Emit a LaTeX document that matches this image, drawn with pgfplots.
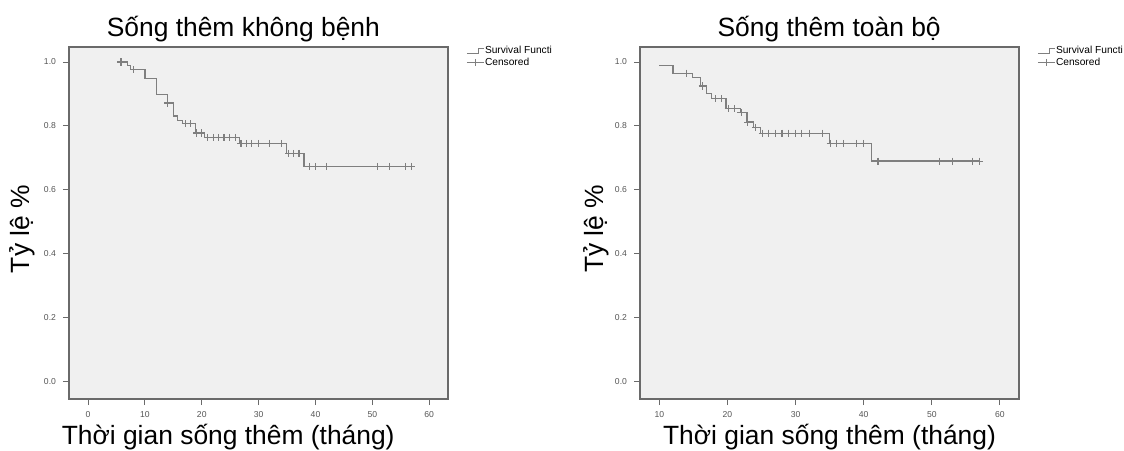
\documentclass[border=0pt]{standalone}
\usepackage{fontspec}
\setmainfont{Liberation Sans}
\usepackage{pgfplots}
\pgfplotsset{compat=1.18}

\definecolor{plotbg}{HTML}{F0F0F0}
\definecolor{curve}{HTML}{7F7F7F}
\definecolor{frame}{HTML}{6A6A6A}
\definecolor{ticktext}{HTML}{555555}

\pgfplotsset{
  km/.style={
    scale only axis, width=189.5pt, height=176pt,
    axis background/.style={fill=plotbg},
    axis line style={frame, line width=0.75pt},
    tick style={frame, line width=0.5pt},
    tick align=outside, major tick length=3pt,
    xtick pos=lower, ytick pos=left,
    ymin=-0.054, ymax=1.047,
    ytick={0,0.2,0.4,0.6,0.8,1.0},
    /pgf/number format/assume math mode=true,
    yticklabel style={/pgf/number format/.cd, fixed, fixed zerofill, precision=1},
    tick label style={font=\fontsize{4.3}{5}\selectfont, text=ticktext},
    xticklabel style={yshift=0.5pt},
    title style={font=\fontsize{13.2}{15}\selectfont, anchor=base, yshift=-0.5pt},
    xlabel style={font=\fontsize{13.2}{15}\selectfont, anchor=base, yshift=-22.5pt},
    ylabel style={font=\fontsize{13.2}{15}\selectfont, anchor=center},
    legend style={at={(1,1)}, anchor=north west, xshift=9pt, yshift=0.7pt,
      draw=none, fill=none, inner sep=0pt, row sep=0.6pt,
      font=\fontsize{5.1}{6}\selectfont,
      nodes={inner sep=0.3pt, text height=3.5pt, text depth=1pt}},
    legend cell align=left,
  },
  steplegend/.style={legend image code/.code={
    \draw[curve, line width=0.5pt] (0pt,-1pt) -- (6pt,-1pt) -- (6pt,1.3pt) -- (8.5pt,1.3pt);}},
  censlegend/.style={legend image code/.code={
    \draw[curve, line width=0.5pt] (0pt,0pt) -- (8.5pt,0pt);
    \draw[curve, line width=0.5pt] plot[mark=+, mark size=1.8pt] coordinates {(4.25pt,0pt)};}},
}

\begin{document}
\begin{tikzpicture}
\useasboundingbox (0,0) rectangle (562pt,-225pt);

% left: disease-free survival
\begin{axis}[km,
    at={(34.5pt,-199.5pt)}, anchor=south west,
    xmin=-3.35, xmax=63.3,
    xtick={0,10,20,30,40,50,60},
    title={Sống thêm không bệnh},
    title style={at={(axis description cs:0.46,1)}},
    xlabel={Thời gian sống thêm (tháng)},
    xlabel style={at={(axis description cs:0.42,0)}},
    ylabel={Tỷ lệ \%},
    ylabel style={at={(axis description cs:-0.124,0.483)}},
]
\addplot[const plot, curve, line width=0.65pt, steplegend] coordinates {
  (5.8,1.000) (6.9,0.990) (7.5,0.976) (10.0,0.949) (12.0,0.898) (14.0,0.872)
  (15.0,0.831) (15.75,0.818) (16.6,0.807) (18.9,0.778) (20.5,0.764)
  (26.6,0.745) (34.9,0.714) (38.0,0.673) (57.0,0.673)
};
\addplot[only marks, mark=+, mark size=1.8pt, curve, line width=0.55pt, censlegend] coordinates {
  (5.8,1.000) (8.0,0.976) (14.0,0.872) (17.1,0.807) (18.0,0.807)
  (19.1,0.778) (19.9,0.778)
  (21.0,0.764) (22.0,0.764) (22.9,0.764) (23.9,0.764) (24.8,0.764) (25.9,0.764)
  (26.9,0.745) (27.8,0.745) (28.7,0.745) (29.9,0.745) (31.9,0.745) (34.0,0.745)
  (35.3,0.714) (36.2,0.714) (37.1,0.714)
  (38.9,0.673) (40.0,0.673) (42.0,0.673) (50.9,0.673) (53.0,0.673) (55.9,0.673) (56.9,0.673)
};
\legend{Survival Functi, Censored}
\end{axis}

% right: overall survival
\begin{axis}[km,
    at={(320pt,-199.5pt)}, anchor=south west,
    xmin=7.16, xmax=62.8,
    xtick={10,20,30,40,50,60},
    title={Sống thêm toàn bộ},
    title style={at={(axis description cs:0.499,1)}},
    xlabel={Thời gian sống thêm (tháng)},
    xlabel style={at={(axis description cs:0.5,0)}},
    ylabel={Tỷ lệ \%},
    ylabel style={at={(axis description cs:-0.116,0.483)}},
]
\addplot[const plot, curve, line width=0.65pt, steplegend] coordinates {
  (10.0,0.990) (12.0,0.965) (14.9,0.951) (16.0,0.925) (16.9,0.901) (17.7,0.885)
  (19.8,0.855) (21.9,0.842) (22.85,0.812) (23.8,0.795) (24.8,0.777)
  (35.0,0.745) (41.1,0.690) (57.0,0.690)
};
\addplot[only marks, mark=+, mark size=1.8pt, curve, line width=0.55pt, censlegend] coordinates {
  (14.0,0.965) (16.3,0.925) (18.2,0.885) (19.1,0.885) (20.1,0.855) (21.0,0.855)
  (22.0,0.842) (23.0,0.812) (24.1,0.795)
  (25.1,0.777) (26.0,0.777) (27.0,0.777) (28.0,0.777) (29.0,0.777) (30.0,0.777)
  (30.9,0.777) (32.1,0.777) (34.0,0.777)
  (35.1,0.745) (36.0,0.745) (37.0,0.745) (39.0,0.745) (40.0,0.745)
  (42.1,0.690) (51.1,0.690) (53.1,0.690) (56.0,0.690) (57.0,0.690)
};
\legend{Survival Functi, Censored}
\end{axis}
\end{tikzpicture}
\end{document}
